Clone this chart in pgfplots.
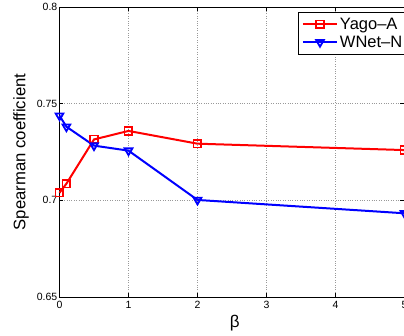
\documentclass[border=0pt]{standalone}
\usepackage{fontspec}
\setmainfont{Liberation Sans}
\usepackage{pgfplots}
\pgfplotsset{compat=1.18}
\begin{document}
\begin{tikzpicture}[x=1pt,y=1pt]
\begin{axis}[
  at={(0,0)}, anchor=south west,
  width=345pt, height=290pt, scale only axis,
  xmin=0, xmax=5, ymin=0.65, ymax=0.8,
  xtick={0,1,2,3,4,5},
  ytick={0.65,0.7,0.75,0.8},
  yticklabels={0.65,0.7,0.75,0.8},
  grid=major,
  grid style={dotted, gray!80, line width=0.6pt},
  tick align=inside,
  major tick length=4pt,
  tick style={black, line width=0.5pt},
  axis line style={line width=0.9pt},
  /pgf/number format/assume math mode=true,
  tick label style={font=\fontsize{10.5}{12}\selectfont, inner sep=1pt},
  xticklabel style={yshift=-3pt},
  yticklabel style={xshift=-1pt},
  xlabel={β},
  ylabel={Spearman coefficient},
  xlabel style={font=\fontsize{17}{19}\selectfont, at={(axis description cs:0.508,-0.09)}, anchor=center},
  ylabel style={font=\fontsize{16.7}{19}\selectfont, at={(axis description cs:-0.1116,0.5)}, anchor=center},
  clip=false,
  legend style={at={(axis description cs:0.690,0.9828)}, anchor=north west,
    font=\fontsize{16.5}{18}\selectfont, draw=black, line width=0.9pt,
    inner xsep=4pt, inner ysep=3.5pt, row sep=1pt},
  legend cell align=left,
  legend image code/.code={\draw[mark repeat=2,mark phase=2,#1] plot coordinates {(0pt,0pt) (17pt,0pt) (34pt,0pt)};},
]
\addplot[red, line width=2pt, mark=square, mark size=3.8pt, mark options={line width=1.6pt, solid}]
  coordinates {(0,0.7039) (0.1,0.7086) (0.5,0.7315) (1,0.7359) (2,0.7293) (5,0.7260)};
\addlegendentry{Yago–A}
\addplot[blue, line width=2pt, mark=triangle, mark size=4.5pt, mark options={line width=1.8pt, solid, rotate=180}]
  coordinates {(0,0.7438) (0.1,0.7381) (0.5,0.7283) (1,0.7257) (2,0.7002) (5,0.6933)};
\addlegendentry{WNet–N}
\end{axis}
\pgfresetboundingbox
\useasboundingbox (-59.5,-38) rectangle (344.5,297);
\end{tikzpicture}
\end{document}
